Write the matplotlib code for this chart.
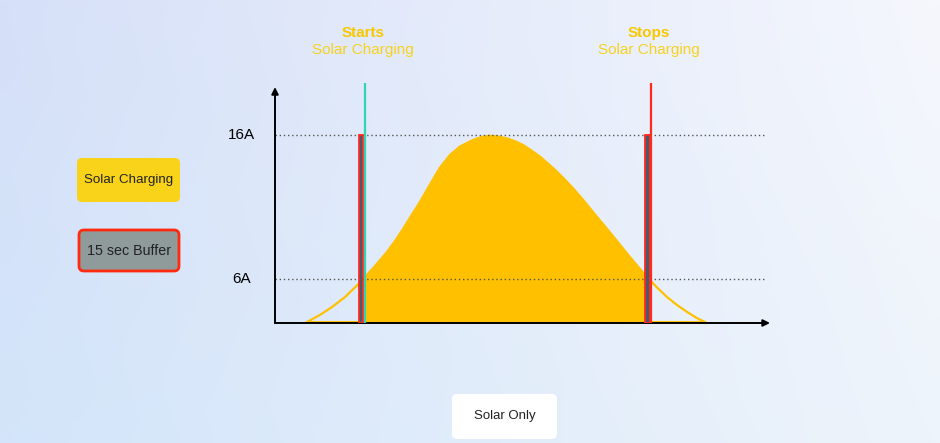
import numpy as np
import matplotlib
matplotlib.use("Agg")
import matplotlib.pyplot as plt
from matplotlib.patches import FancyBboxPatch

plt.rcParams['font.family'] = ['Liberation Sans', 'DejaVu Sans']

# solar current curve, x = time (0..100), y = % of peak (16A = 100)
time = [6.4, 9.0, 11.4, 14.0, 16.6, 17.8, 20.0, 22.4, 24.0, 25.6, 27.2, 29.0, 31.0,
        33.0, 35.0, 37.0, 39.6, 41.4, 43.0, 44.6, 46.4, 48.0, 49.6, 51.2, 53.0,
        54.6, 56.4, 58.0, 59.6, 61.4, 63.0, 64.6, 66.4, 68.4, 70.4, 72.4, 74.4,
        76.4, 78.4, 80.4, 82.4, 84.2, 86.0]
current = [0.5, 4.3, 8.5, 13.8, 20.5, 23.9, 30.3, 37.8, 43.6, 50.0, 56.9, 64.4, 73.7,
           82.7, 89.4, 93.9, 97.4, 99.0, 99.6, 99.2, 98.2, 96.7, 94.7, 91.9, 88.5,
           84.8, 80.5, 76.2, 71.7, 66.2, 61.0, 55.8, 50.1, 43.6, 37.0, 30.6, 24.5,
           18.9, 13.8, 9.6, 5.9, 2.9, 0.5]

start_t = 17.9
stop_t = 75.2
fill_end = 74.4
buffer_t = [17.15, 74.5]
buffer_w = [0.75, 0.9]
buffer_h = [100, 100]

level_pos = [23.4, 100]
level_labels = ["6A", "16A"]

W, H = 940, 443
fig = plt.figure(figsize=(W / 100, H / 100), dpi=100)

# background with soft gradient, pixel coordinates
bg = fig.add_axes([0, 0, 1, 1])
bg.set_xlim(0, W)
bg.set_ylim(H, 0)
bg.axis("off")
tl = np.array([214, 224, 248]) / 255
tr = np.array([245, 247, 253]) / 255
bl = np.array([211, 229, 250]) / 255
br = np.array([238, 244, 251]) / 255
u = np.linspace(0, 1, 60)[None, :, None]
v = np.linspace(0, 1, 60)[:, None, None]
grad = (1 - v) * ((1 - u) * tl + u * tr) + v * ((1 - u) * bl + u * br)
bg.imshow(grad, extent=[0, W, H, 0], aspect="auto", interpolation="bilinear")

yellow_txt = "#f7c800"
bg.text(363, 33, "Starts", color=yellow_txt, fontsize=11, fontweight="bold", ha="center", va="center")
bg.text(363, 50, "Solar Charging", color="#f6d21e", fontsize=11, ha="center", va="center")
bg.text(649, 33, "Stops", color=yellow_txt, fontsize=11, fontweight="bold", ha="center", va="center")
bg.text(649, 50, "Solar Charging", color="#f6d21e", fontsize=11, ha="center", va="center")

bg.add_patch(FancyBboxPatch((77, 158), 103, 44, boxstyle="round,pad=0,rounding_size=5",
                            fc="#f9d31a", ec="none"))
bg.text(128.5, 180, "Solar Charging", fontsize=9.6, color="#222222", ha="center", va="center")
bg.add_patch(FancyBboxPatch((79, 230), 100, 41, boxstyle="round,pad=0,rounding_size=5",
                            fc="#8f9b9b", ec="#ff2a10", lw=2))
bg.text(129, 250.5, "15 sec Buffer", fontsize=10.3, color="#222222", ha="center", va="center")
bg.add_patch(FancyBboxPatch((452, 394), 105, 45, boxstyle="round,pad=0,rounding_size=5",
                            fc="white", ec="none"))
bg.text(504.5, 416.5, "Solar Only", fontsize=9.5, color="#222222", ha="center", va="center")

# main chart
ax = fig.add_axes([275 / W, (H - 323) / H, 500 / W, 240 / H])
ax.patch.set_alpha(0)
ymax = 240 / 188 * 100
ax.set_xlim(0, 100)
ax.set_ylim(0, ymax)
for s in ax.spines.values():
    s.set_visible(False)
ax.set_xticks([])
ax.set_yticks(level_pos)
ax.set_yticklabels(level_labels, fontsize=11, ha="center", va="center")
ax.tick_params(axis="y", length=0, pad=24)
for lbl in ax.get_yticklabels():
    lbl.set_y(lbl.get_position()[1])

for lv in level_pos:
    ax.plot([0, 98], [lv, lv], color="#555555", lw=1, ls=(0, (1, 2)), zorder=3)

t = np.array(time)
c = np.array(current)
ax.fill_between(t, c, where=(t >= start_t - 0.1) & (t <= fill_end + 0.01), color="#ffc000", lw=0, zorder=2)
ax.plot(t, c, color="#ffc000", lw=1.6, zorder=2)
ax.plot([time[0], time[-1]], [0.6, 0.6], color="#ffc000", lw=1.5, zorder=2)

ax.bar(buffer_t, buffer_h, width=buffer_w, color="#4a5870", edgecolor="#ff2a1a", lw=1.3, zorder=4)
ax.plot([start_t, start_t], [0, ymax], color="#2fd4b4", lw=1.6, zorder=5)
ax.plot([stop_t, stop_t], [0, ymax], color="#ff2a1a", lw=1.6, zorder=5)

ax.annotate("", xy=(0, 125.5), xytext=(0, 0),
            arrowprops=dict(arrowstyle="-|>", color="black", lw=1.4, mutation_scale=10,
                            shrinkA=0, shrinkB=0), annotation_clip=False)
ax.annotate("", xy=(99, 0), xytext=(0, 0),
            arrowprops=dict(arrowstyle="-|>", color="black", lw=1.4, mutation_scale=10,
                            shrinkA=0, shrinkB=0), annotation_clip=False)

fig.savefig("out.png", dpi=100)
